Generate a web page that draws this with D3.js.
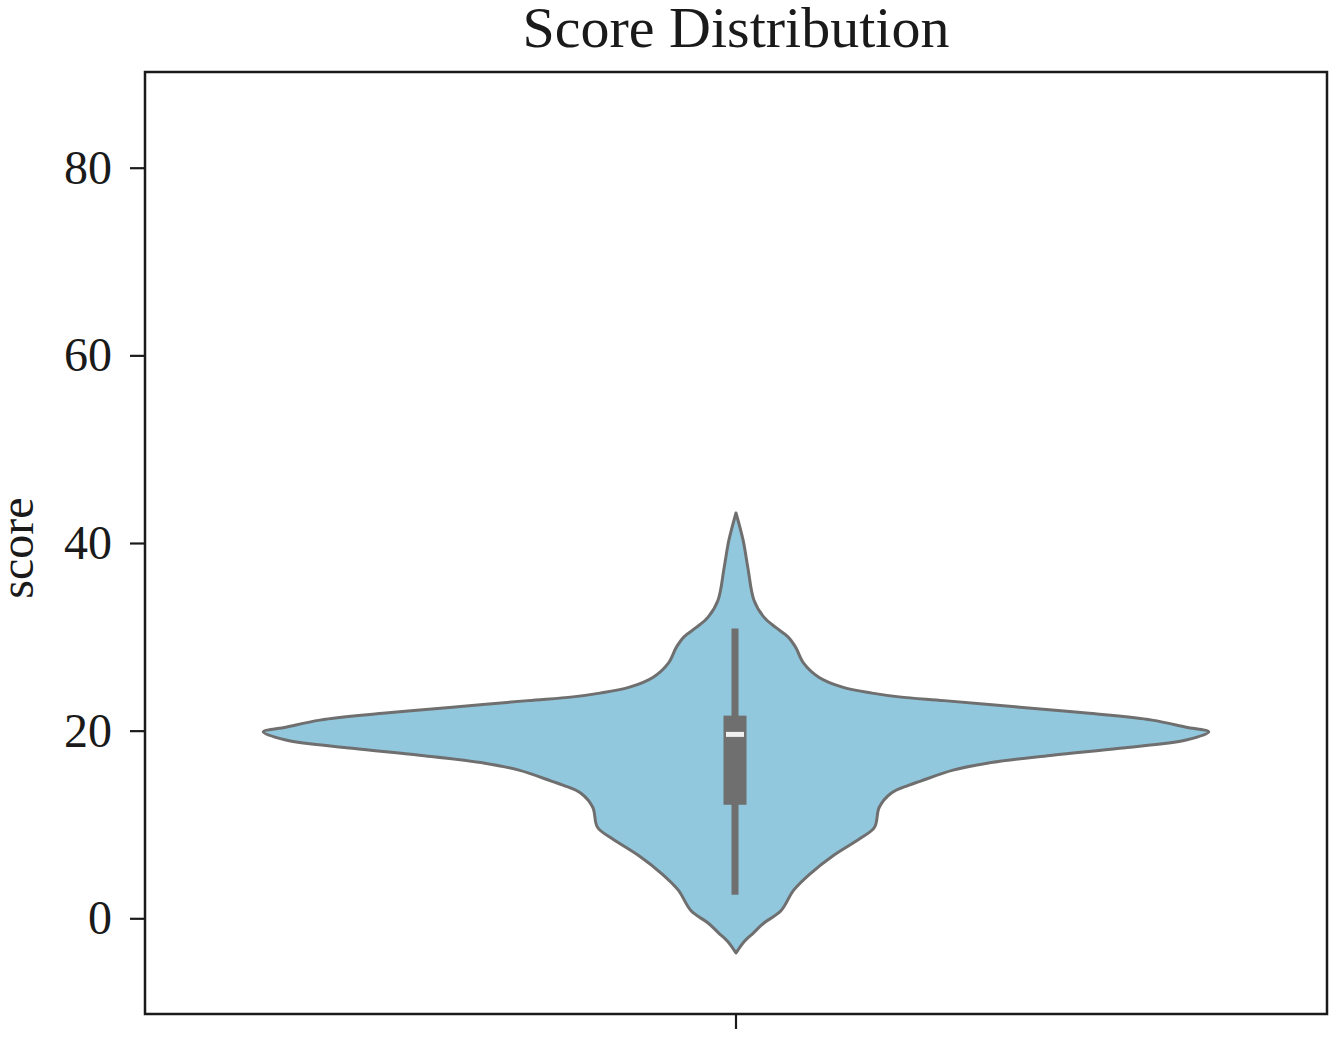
<!DOCTYPE html>
<html>
<head>
<meta charset="utf-8">
<script src="https://cdn.jsdelivr.net/npm/d3@7"></script>
<style>
  html, body { margin: 0; padding: 0; background: #ffffff; }
  svg { display: block; }
  text { font-family: "Liberation Serif", "DejaVu Serif", serif; fill: #1a1a1a; }
</style>
</head>
<body>
<script>
// ---- data ----
const categories = [""];
const yTicks = [0, 20, 40, 60, 80];
const yDomain = [-10.2, 90.2];
// kernel density profile of "score": grid values and relative density
const scoreGrid = [-3.7, -2.5, -1.6, -0.5, 0.8, 3.0, 4.8, 6.7, 8.53, 9.7, 11.84, 13.33, 14.19, 14.6, 15.79, 16.53, 17.39, 18.13, 19.0, 19.87, 20.37, 21.12, 21.87, 22.5, 23.2, 23.6, 24.0, 24.64, 25.7, 27.2, 28.9, 30.0, 31.0, 32.1, 33.9, 37.4, 40.3, 43.2];
const densityRel = [0, 0.017, 0.036, 0.059, 0.095, 0.122, 0.158, 0.206, 0.263, 0.293, 0.303, 0.328, 0.366, 0.389, 0.459, 0.531, 0.669, 0.811, 0.952, 1.0, 0.952, 0.880, 0.741, 0.600, 0.440, 0.345, 0.288, 0.225, 0.175, 0.143, 0.126, 0.110, 0.084, 0.059, 0.038, 0.025, 0.015, 0];
// box summary
const boxQ1 = 12.1, boxMedian = 19.6, boxQ3 = 21.6;
const whiskerLow = 2.5, whiskerHigh = 30.9;

// ---- layout ----
const W = 1338, H = 1038;
const margin = { top: 72, right: 11, bottom: 24, left: 145 };
const iw = W - margin.left - margin.right;
const ih = H - margin.top - margin.bottom;

const svg = d3.select("body").append("svg").attr("width", W).attr("height", H);
const g = svg.append("g").attr("transform", `translate(${margin.left},${margin.top})`);

const x = d3.scaleBand().domain(categories).range([0, iw]).paddingInner(0).paddingOuter(0);
const y = d3.scaleLinear().domain(yDomain).range([ih, 0]);
const cx = x("") + x.bandwidth() / 2;
const wScale = d3.scaleLinear().domain([0, d3.max(densityRel)]).range([0, x.bandwidth() * 0.4]);

const prof = scoreGrid.map((v, i) => ({ v, d: densityRel[i] }));

const area = d3.area()
  .y(d => y(d.v))
  .x0(d => cx - wScale(d.d))
  .x1(d => cx + wScale(d.d))
  .curve(d3.curveCatmullRom.alpha(0.5));

g.append("path")
  .datum(prof)
  .attr("d", area)
  .attr("fill", "#92c8de")
  .attr("stroke", "#6f6f6f")
  .attr("stroke-width", 3)
  .attr("stroke-linejoin", "round");

// inner box
const gray = "#6f6f6f";
g.append("line")
  .attr("x1", cx - 1).attr("x2", cx - 1)
  .attr("y1", y(whiskerLow)).attr("y2", y(whiskerHigh))
  .attr("stroke", gray).attr("stroke-width", 7);
g.append("rect")
  .attr("x", cx - 1 - 11.5).attr("width", 23)
  .attr("y", y(boxQ3)).attr("height", y(boxQ1) - y(boxQ3))
  .attr("fill", gray);
g.append("line")
  .attr("x1", cx - 1 - 9).attr("x2", cx - 1 + 9)
  .attr("y1", y(boxMedian)).attr("y2", y(boxMedian))
  .attr("stroke", "#f0f0f0").attr("stroke-width", 5);

// axes
const yAxis = d3.axisLeft(y).tickValues(yTicks).tickSize(15).tickPadding(18).tickFormat(d3.format("d"));
const ya = g.append("g").call(yAxis);
ya.select(".domain").remove();
ya.selectAll(".tick line").attr("stroke", "#1a1a1a").attr("stroke-width", 2.2);
ya.selectAll(".tick text").attr("font-size", 48).attr("font-family", "Liberation Serif").attr("fill", "#1a1a1a");

const xAxis = d3.axisBottom(x).tickSize(15).tickFormat(() => "");
const xa = g.append("g").attr("transform", `translate(0,${ih})`).call(xAxis);
xa.select(".domain").remove();
xa.selectAll(".tick line").attr("stroke", "#1a1a1a").attr("stroke-width", 2.2);

// frame
g.append("rect")
  .attr("x", 0).attr("y", 0).attr("width", iw).attr("height", ih)
  .attr("fill", "none").attr("stroke", "#1a1a1a").attr("stroke-width", 2.5);

// title & label
svg.append("text")
  .attr("x", margin.left + iw / 2).attr("y", 47)
  .attr("text-anchor", "middle").attr("font-size", 58)
  .text("Score Distribution");

svg.append("text")
  .attr("transform", `translate(33,${y(40) + margin.top + 5}) rotate(-90)`)
  .attr("text-anchor", "middle").attr("font-size", 48)
  .text("score");
</script>
</body>
</html>
